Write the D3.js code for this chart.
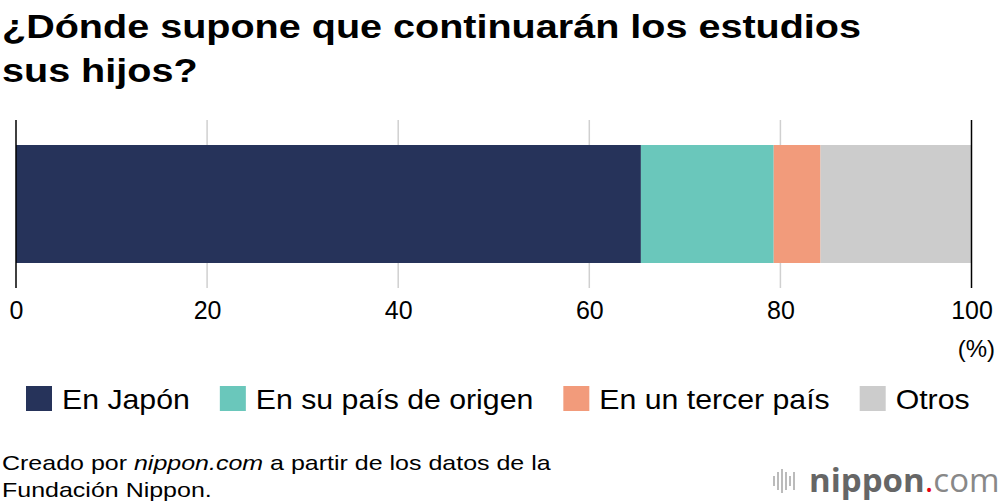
<!DOCTYPE html>
<html><head><meta charset="utf-8">
<script src="https://cdn.jsdelivr.net/npm/d3@7"></script>
<style>body{margin:0;background:#fff}svg{display:block}</style>
</head><body>
<svg id="c" width="1000" height="504"></svg>
<script>
const categories = ["En Japón", "En su país de origen", "En un tercer país", "Otros"];
const values = [65.4, 13.9, 4.9, 15.8];
const colors = ["#26335a", "#6ac7bb", "#f29b7b", "#cccccc"];
const ticks = [0, 20, 40, 60, 80, 100];
const titleLines = ["¿Dónde supone que continuarán los estudios", "sus hijos?"];

const svg = d3.select("#c");
const font = "'Liberation Sans', Arial, Helvetica, sans-serif";
const x = d3.scaleLinear().domain([0, 100]).range([16, 971.5]);

function stretch(f) {
  return sel => sel.each(function () {
    const w = this.getComputedTextLength();
    d3.select(this).attr("textLength", w * f).attr("lengthAdjust", "spacingAndGlyphs");
  });
}

// title
const title = svg.append("g");
titleLines.forEach((d, i) => {
  title.append("text").attr("font-family", font).attr("font-weight", "bold").attr("font-size", 34)
    .attr("fill", "#000").attr("x", 2).attr("y", 38 + i * 44).text(d).call(stretch(1.163));
});

// gridlines
svg.append("g").selectAll("line").data(ticks.filter(d => d !== 0 && d !== 100)).join("line")
  .attr("x1", d => x(d)).attr("x2", d => x(d)).attr("y1", 120).attr("y2", 288)
  .attr("stroke", "#d0d0d0").attr("stroke-width", 1.5);

// stacked segments
let acc = 0;
const segs = values.map((v, i) => { const s = {start: acc, end: acc + v, c: colors[i]}; acc += v; return s; });
const bandTop = 145, bandH = 118;
svg.append("g").selectAll("rect").data(segs).join("rect")
  .attr("x", d => x(d.start)).attr("width", d => x(d.end) - x(d.start))
  .attr("y", bandTop).attr("height", bandH).attr("fill", d => d.c);
// edge lines above bar
svg.append("g").selectAll("line").data([0, 100]).join("line")
  .attr("x1", d => x(d)).attr("x2", d => x(d)).attr("y1", 120).attr("y2", 288)
  .attr("stroke", "#000").attr("stroke-width", 1.5);

// axis labels
const ax = svg.append("g").attr("transform", "translate(0,290)")
  .call(d3.axisBottom(x).tickValues(ticks).tickSize(0).tickPadding(8));
ax.select(".domain").remove();
ax.selectAll("text").attr("font-family", font).attr("font-size", 25).attr("fill", "#000")
  .attr("dy", "0.82em");
svg.append("text").attr("x", 995).attr("y", 357).attr("text-anchor", "end")
  .attr("font-family", font).attr("font-size", 24).attr("fill", "#000").text("(%)");

// legend
const lg = svg.append("g");
let lx = 26;
categories.forEach((c, i) => {
  lg.append("rect").attr("x", lx).attr("y", 386).attr("width", 26).attr("height", 25).attr("fill", colors[i]);
  const t = lg.append("text").attr("x", lx + 36).attr("y", 409).attr("font-family", font)
    .attr("font-size", 27.5).attr("fill", "#000").text(c).call(stretch(1.1));
  const w = +t.attr("textLength");
  lx = lx + 36 + w + 30;
});

// footer
const fg = svg.append("g").attr("transform", "translate(2,0) scale(1.19,1)");
const ft = fg.append("text").attr("font-family", font).attr("font-size", 21).attr("fill", "#000");
const l1 = ft.append("tspan").attr("x", 0).attr("y", 470);
l1.append("tspan").text("Creado por ");
l1.append("tspan").attr("font-style", "italic").text("nippon.com");
l1.append("tspan").text(" a partir de los datos de la");
ft.append("tspan").attr("x", 0).attr("y", 497).text("Fundación Nippon.");

// logo
const logo = svg.append("g");
const barsH = [10, 18, 24, 18, 10, 18];
barsH.forEach((h, i) => {
  logo.append("rect").attr("x", 773 + i * 4).attr("y", 481 - h / 2).attr("width", 2).attr("height", h).attr("fill", "#bbb");
});
const lt = logo.append("text").attr("x", 809).attr("y", 492).attr("font-family", "'Open Sans', sans-serif").attr("font-size", 33);
lt.append("tspan").attr("font-weight", "bold").attr("fill", "#666").text("nippon");
lt.append("tspan").attr("fill", "#e60012").text(".");
lt.append("tspan").attr("fill", "#888").text("com");
</script>
</body></html>
